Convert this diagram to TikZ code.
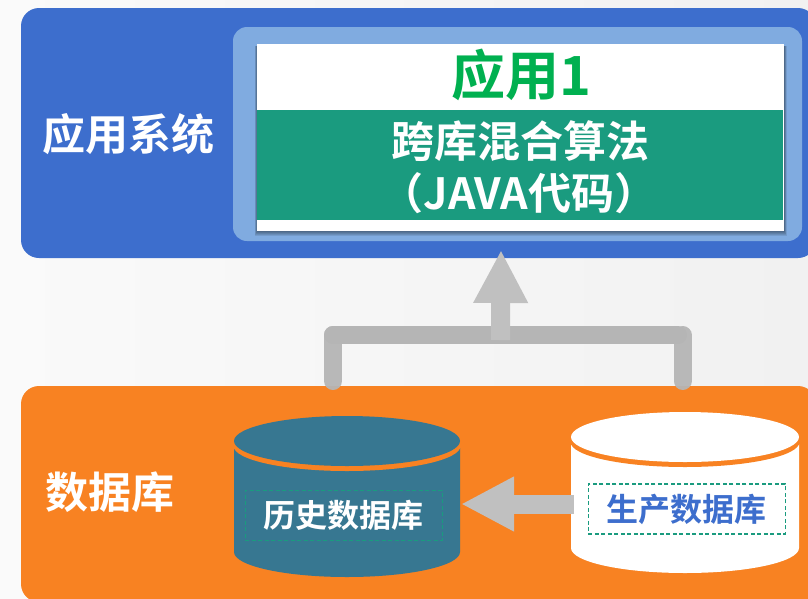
\documentclass[tikz,border=0pt]{standalone}
\usepackage{fontspec}
\setmainfont{Noto Sans CJK SC}[BoldFont={Noto Sans CJK SC Bold}]
\usetikzlibrary{arrows.meta}
\definecolor{bluebg}{HTML}{3D6ECD}
\definecolor{paleblue}{HTML}{80ABE0}
\definecolor{teal1}{HTML}{1A9B7F}
\definecolor{green1}{HTML}{00B050}
\definecolor{orange1}{HTML}{F88222}
\definecolor{dbblue}{HTML}{377791}
\definecolor{linegray}{HTML}{B5B5B5}
\definecolor{arrowlight}{HTML}{C0C0C0}
\definecolor{bgleft}{HTML}{FAFAFA}
\definecolor{bgright}{HTML}{F1F1F1}
\tikzset{
 px/.style={x=1pt,y=-1pt},
 lab/.style={font=\bfseries,text=white,inner sep=0pt},
 dashbox/.style={draw=teal1,dash pattern=on 4pt off 2.5pt,line width=1pt,inner sep=0pt,minimum width=197pt,minimum height=50pt,anchor=north west},
 conn/.style={draw=linegray,line width=18pt,line cap=round},
 bigarrow/.style={line width=19pt,arrowlight,-{Triangle[length=53pt,width=51pt]}},
}
\begin{document}
\begin{tikzpicture}[px]
\useasboundingbox (0,0) rectangle (808,598);
\clip (0,0) rectangle (808,598);
\fill[left color=bgleft,right color=bgright] (0,0) rectangle (808,598);
\fill[bluebg,rounded corners=18pt] (21,8) rectangle (816,258);
\fill[orange1,rounded corners=18pt] (21,386) rectangle (816,602);
\fill[paleblue,rounded corners=14pt] (233,27) rectangle (802,241);
\foreach \s in {5,4,3,2,1}{
 \fill[black,opacity=.09] (257-\s*.5,46) rectangle (784+\s*.5,231+\s);
}
\node[fill=white,minimum width=527pt,minimum height=187pt,inner sep=0pt,anchor=north west] (app) at (257,44) {};
\node[fill=teal1,minimum width=526.5pt,minimum height=110pt,inner sep=0pt,anchor=north west] (alg) at (256.5,110) {};
\node[font=\bfseries\fontsize{54}{54}\selectfont,text=green1,inner sep=0pt] (t1) at (521,75) {应用1};
\node[lab,font=\bfseries\fontsize{43}{43}\selectfont] (t2) at (520,141) {跨库混合算法};
\node[lab,font=\bfseries\fontsize{43}{43}\selectfont] (t3) at (519,193) {（JAVA代码）};
\node[lab,font=\bfseries\fontsize{43}{43}\selectfont] (sys) at (128,134) {应用系统};
\node[lab,font=\bfseries\fontsize{43}{43}\selectfont] (db) at (110,492) {数据库};
% connector
\coordinate (cl) at (333,381);
\coordinate (clt) at (333,335);
\coordinate (cr) at (682.5,381);
\coordinate (crt) at (678,335);
\coordinate (crv) at (682.5,335);
\coordinate (cm) at (500.5,340);
\coordinate (ctip) at (501,250);
\draw[conn] (clt) -- (crt);
\draw[conn,opacity=.95] (cl) -- (clt);
\draw[conn,opacity=.95] (cr) -- (crv);
\draw[bigarrow] (cm) -- (ctip);
% history cylinder
\fill[dbblue] (234,448) -- (234,552) arc[start angle=180,end angle=360,x radius=113pt,y radius=25pt] -- (460,448) -- cycle;
\fill[orange1] (347,446) ellipse[x radius=113.5pt,y radius=25pt];
\fill[dbblue] (347,441) ellipse[x radius=113pt,y radius=25pt];
% production cylinder
\fill[white] (571,444) -- (571,548) arc[start angle=180,end angle=360,x radius=114pt,y radius=25pt] -- (799,444) -- cycle;
\fill[orange1] (685,442) ellipse[x radius=114.5pt,y radius=25pt];
\fill[white] (685,437) ellipse[x radius=114pt,y radius=25pt];
\node[dashbox] (hist) at (244.5,489.5) {};
\node[lab,font=\bfseries\fontsize{32}{32}\selectfont] at (343,515) {历史数据库};
\node[dashbox,line width=1.5pt] (prod) at (587.5,483) {};
\node[lab,text=bluebg,font=\bfseries\fontsize{32}{32}\selectfont] at (686,509) {生产数据库};
\coordinate (al) at (461,504);
\coordinate (ar) at (574,504);
\draw[bigarrow] (ar) -- (al);
\end{tikzpicture}
\end{document}
